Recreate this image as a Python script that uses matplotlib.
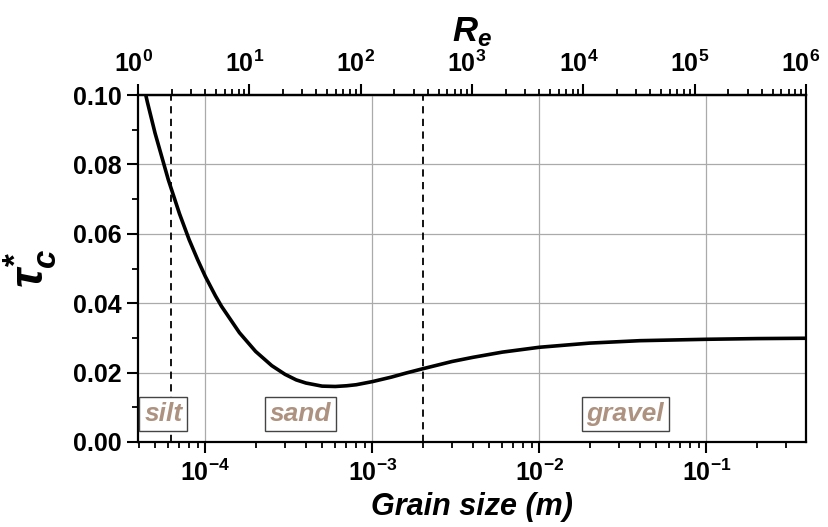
import numpy as np
import matplotlib
matplotlib.use('Agg')
import matplotlib.pyplot as plt
import matplotlib.transforms as mtrans
from matplotlib.ticker import LogLocator, MultipleLocator, FixedLocator, NullFormatter, FuncFormatter

plt.rcParams['font.family'] = ['Liberation Sans', 'DejaVu Sans']
plt.rcParams['font.weight'] = 'bold'
plt.rcParams['mathtext.fontset'] = 'custom'
plt.rcParams['mathtext.rm'] = 'Liberation Sans:bold'
plt.rcParams['mathtext.bf'] = 'Liberation Sans:bold'
plt.rcParams['mathtext.it'] = 'Liberation Sans:bold:italic'

# ---- data ----
grain_size_m = [4.0e-5, 4.5e-5, 5e-5, 6e-5, 7e-5, 8e-5, 9e-5, 1.0e-4, 1.15e-4, 1.25e-4,
                1.6e-4, 2e-4, 2.5e-4, 3e-4, 3.5e-4, 4e-4, 5e-4, 6e-4, 7e-4, 8e-4,
                1e-3, 1.3e-3, 1.6e-3, 2e-3, 3e-3, 4e-3, 6e-3, 1e-2, 2e-2, 4e-2,
                0.1, 0.2, 0.4]
tau_c = [0.1088, 0.0979, 0.0890, 0.0756, 0.0658, 0.0583, 0.0525, 0.0477, 0.0421, 0.0391,
         0.0315, 0.0261, 0.0220, 0.0195, 0.0179, 0.0170, 0.0161, 0.0160, 0.0162, 0.0165,
         0.0174, 0.0187, 0.0199, 0.0211, 0.0232, 0.0244, 0.0259, 0.0273, 0.0285, 0.0292,
         0.0296, 0.0298, 0.0299]
class_boundaries_m = [6.25e-5, 2e-3]
class_labels = ['silt', 'sand', 'gravel']
class_label_x = [5.6e-5, 3.7e-4, 3.27e-2]
class_label_y = [0.0081, 0.0081, 0.0081]
y_ticks = [0.00, 0.02, 0.04, 0.06, 0.08, 0.10]
x_ticks = [1e-4, 1e-3, 1e-2, 1e-1]
re_ticks = [1e0, 1e1, 1e2, 1e3, 1e4, 1e5, 1e6]

# Reynolds number conversion for the top axis
R_sub, g, nu = 1.65, 9.81, 1e-6
def d_to_re(d):
    d = np.asarray(d, dtype=float)
    return np.sqrt(R_sub * g * np.abs(d)) * np.abs(d) / nu
def re_to_d(re):
    re = np.asarray(re, dtype=float)
    return (np.abs(re) * nu / np.sqrt(R_sub * g)) ** (2.0 / 3.0)

fig = plt.figure(figsize=(8.29, 5.27), dpi=100)
ax = fig.add_axes([0.1665, 0.1613, 0.8058, 0.6584])

ax.set_xscale('log')
xmin, xmax = float(re_to_d(1.0)), float(re_to_d(1e6))
ax.set_xlim(xmin, xmax)
ax.set_ylim(0, 0.10)

ax.grid(True, which='major', color='#aaaaaa', lw=0.9, zorder=0)

for xb in class_boundaries_m:
    ax.axvline(xb, color='black', ls=(0, (4, 3)), lw=1.3, zorder=2)

ax.plot(grain_size_m, tau_c, color='black', lw=2.6, zorder=3, solid_capstyle='round')

for lab, x, y in zip(class_labels, class_label_x, class_label_y):
    ax.text(x, y, lab, ha='center', va='center', fontsize=19, fontweight='bold',
            fontstyle='italic', color='#ae9280', zorder=4,
            bbox=dict(boxstyle='square,pad=0.18', fc='white', ec='#444444', lw=1.0))

def sci(v, pos):
    e = int(round(np.log10(v)))
    return r'$\mathbf{10^{%d}}$' % e

ax.xaxis.set_major_locator(FixedLocator(x_ticks))
ax.xaxis.set_minor_locator(LogLocator(base=10, subs=np.arange(2, 10), numticks=100))
ax.xaxis.set_major_formatter(FuncFormatter(sci))
ax.xaxis.set_minor_formatter(NullFormatter())
ax.yaxis.set_major_locator(FixedLocator(y_ticks))
ax.yaxis.set_minor_locator(MultipleLocator(0.01))
ax.yaxis.set_major_formatter(FuncFormatter(lambda v, p: '%.2f' % v))

ax.tick_params(which='major', direction='out', length=8, width=1.5, labelsize=18, pad=4)
ax.tick_params(axis='x', which='major', labelsize=18, pad=5)
ax.tick_params(which='minor', direction='out', length=4.5, width=1.3)
for sp in ax.spines.values():
    sp.set_linewidth(1.6)

sec = ax.secondary_xaxis('top', functions=(d_to_re, re_to_d))
sec.xaxis.set_major_locator(FixedLocator(re_ticks))
sec.xaxis.set_minor_locator(LogLocator(base=10, subs=np.arange(2, 10), numticks=100))
sec.xaxis.set_major_formatter(FuncFormatter(sci))
sec.xaxis.set_minor_formatter(NullFormatter())
sec.tick_params(which='major', direction='out', length=8, width=1.5, labelsize=18, pad=5)
sec.tick_params(which='minor', direction='out', length=4.5, width=1.3)
sec.spines['top'].set_linewidth(1.6)

ax.set_xlabel('Grain size (m)', fontsize=22, fontweight='bold', fontstyle='italic', labelpad=4)
ax.set_ylabel(r'$\tau_c^{*}$', fontsize=34, labelpad=10)
sec.set_xlabel(r'$R_e$', fontsize=25, labelpad=7)

# shift top tick labels slightly left (as in the reference) so the last one fits
fig.canvas.draw()
off = mtrans.ScaledTranslation(-5 / 100, 0, fig.dpi_scale_trans)
for t in sec.xaxis.get_major_ticks():
    t.label1.set_transform(t.label1.get_transform() + off)
    t.label2.set_transform(t.label2.get_transform() + off)

fig.savefig('out.png', dpi=100)
